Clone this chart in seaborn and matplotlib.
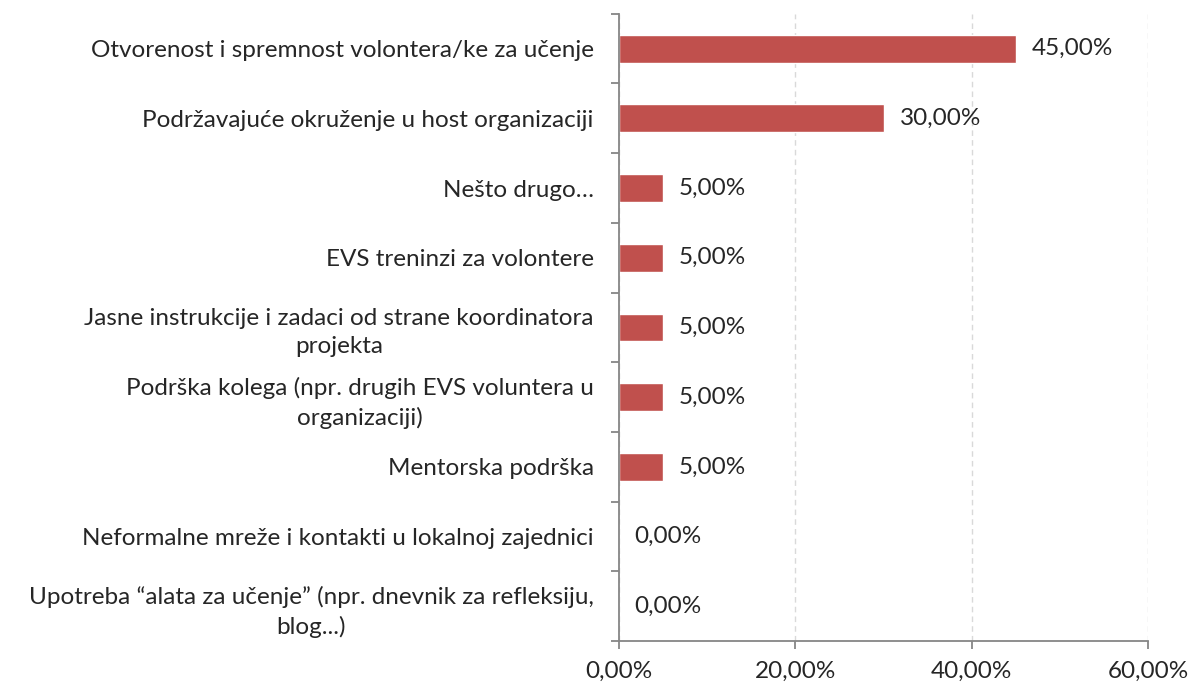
import matplotlib
matplotlib.use("Agg")
import matplotlib.pyplot as plt
import seaborn as sns
import numpy as np
import pandas as pd

categories = [
    "Otvorenost i spremnost volontera/ke za učenje",
    "Podržavajuće okruženje u host organizaciji",
    "Nešto drugo…",
    "EVS treninzi za volontere",
    "Jasne instrukcije i zadaci od strane koordinatora\nprojekta",
    "Podrška kolega (npr. drugih EVS voluntera u\norganizaciji)",
    "Mentorska podrška",
    "Neformalne mreže i kontakti u lokalnoj zajednici",
    "Upotreba “alata za učenje” (npr. dnevnik za refleksiju,\nblog...)",
]
values = [45.0, 30.0, 5.0, 5.0, 5.0, 5.0, 5.0, 0.0, 0.0]
x_ticks = [0, 20, 40, 60]

df = pd.DataFrame({"kategorija": categories, "postotak": values})

sns.set_style("white")
plt.rcParams['font.family'] = ['Lato', 'DejaVu Sans']
fs = 17.5

fig = plt.figure(figsize=(11.9, 6.88), dpi=100)
ax = fig.add_axes([0.520, 0.068, 0.445, 0.912])

sns.barplot(data=df, y="kategorija", x="postotak", orient="h",
            color="#c0504d", saturation=1, width=0.4, ax=ax)

ax.set_xlim(0, 60)
ax.set_ylim(len(categories) - 0.5, -0.5)
ax.set_xticks(x_ticks)
ax.set_xticklabels([f"{t:.2f}%".replace(".", ",") for t in x_ticks], fontsize=fs)
ax.set_xlabel("")
ax.set_ylabel("")

# y labels, right aligned, wrapped lines centered
ax.set_yticks(range(len(categories)))
ax.set_yticklabels(categories, fontsize=fs, multialignment="center", linespacing=1.4)
ax.tick_params(axis="y", which="major", left=False, length=0, pad=18)
ax.set_yticks(np.arange(-0.5, len(categories)), minor=True)
ax.tick_params(axis="y", which="minor", left=True, length=6, width=1.3, color="#868686")
ax.tick_params(axis="x", which="major", bottom=True, length=6, width=1.3, color="#868686", pad=8)

ax.xaxis.grid(True, linestyle=(0, (4, 3)), color="#d9d9d9", linewidth=1)
ax.set_axisbelow(True)

for side in ["top", "right"]:
    ax.spines[side].set_visible(False)
for side in ["left", "bottom"]:
    ax.spines[side].set_color("#868686")
    ax.spines[side].set_linewidth(1.3)

for i, v in enumerate(values):
    ax.text(v + 1.8, i, f"{v:.2f}%".replace(".", ","), va="center", ha="left", fontsize=fs)

plt.savefig("out.png", dpi=100)
